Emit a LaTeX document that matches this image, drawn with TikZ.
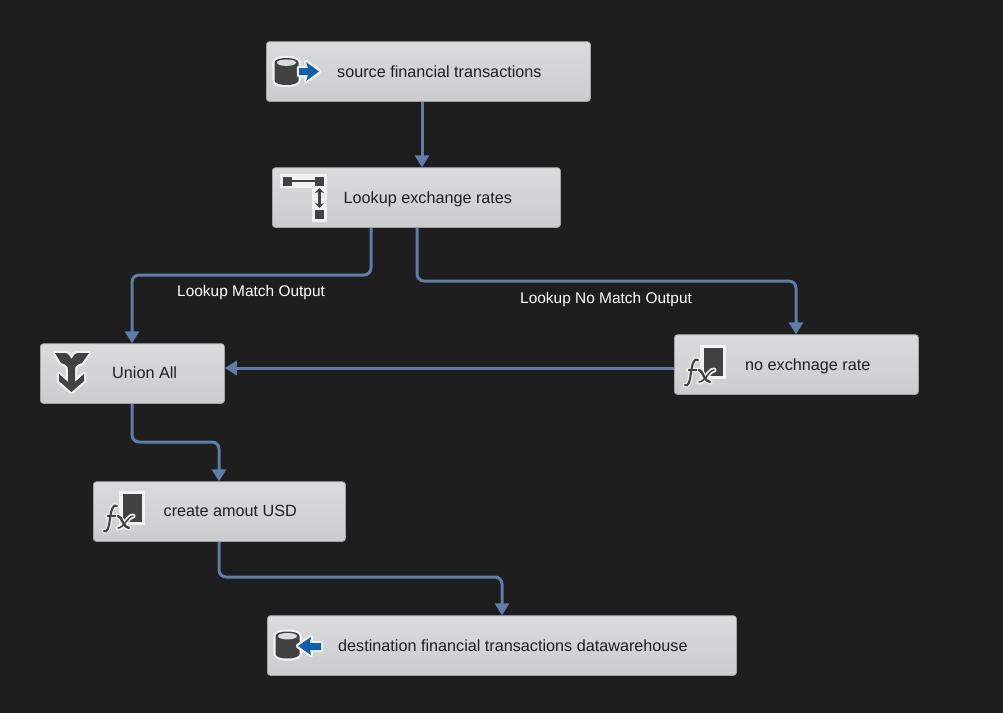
\documentclass[tikz,border=0pt]{standalone}
\usepackage{fontspec}
\setmainfont{Liberation Sans}
\usetikzlibrary{arrows.meta}
\definecolor{bg}{HTML}{1E1E1E}
\definecolor{boxtop}{HTML}{DBDBDD}
\definecolor{boxbot}{HTML}{CBCCCE}
\definecolor{boxedge}{HTML}{A2A3A6}
\definecolor{wire}{HTML}{5E7DA8}
\definecolor{ico}{HTML}{424242}
\definecolor{icoblue}{HTML}{0F5FAE}
\definecolor{halocol}{HTML}{F2F2F2}
\tikzset{
  x=1pt,y=-1pt,
  box/.style={draw=boxedge,line width=.8pt,rounded corners=3pt,top color=boxtop,bottom color=boxbot,anchor=north west,inner sep=0pt,minimum height=59.7pt},
  lbl/.style={anchor=base west,inner sep=0pt,font=\fontsize{16.2}{18}\selectfont,text=black!88},
  edgelbl/.style={anchor=base west,inner sep=0pt,font=\fontsize{15.45}{18}\selectfont,text=white},
  wireline/.style={draw=wire,line width=3pt,rounded corners=7pt,-{Triangle[length=12pt,width=14pt]}},
  halo/.style={draw=halocol,fill=halocol,line width=4.5pt,line join=round},
  dark/.style={fill=ico,draw=none},
}
\newcommand{\drum}[2]{%
  \begin{scope}[shift={(#1,#2)}]
    \path[halo] (-12,-9) -- (-12,9) .. controls (-12,15) and (12,15) .. (12,9) -- (12,-9) .. controls (12,-15) and (-12,-15) .. (-12,-9) -- cycle;
    \path[dark] (-12,-9) -- (-12,9) .. controls (-12,15) and (12,15) .. (12,9) -- (12,-9) .. controls (12,-15) and (-12,-15) .. (-12,-9) -- cycle;
    \path[fill=boxtop] (-9.5,-9) .. controls (-9.5,-4.5) and (9.5,-4.5) .. (9.5,-9) .. controls (9.5,-13) and (-9.5,-13) .. (-9.5,-9) -- cycle;
  \end{scope}}
\newcommand{\fxicon}[2]{%
  \begin{scope}[shift={(#1,#2)}]
    \path[fill=halocol] (26,10) rectangle (52,44);
    \path[dark] (30,13) rectangle (49,41);
    \draw[halocol,line width=4.5pt,line cap=round] (24,25) .. controls (20,22) and (18,30) .. (17,37) .. controls (16,47) and (14,52) .. (11,50);
    \draw[halocol,line width=4.5pt,line cap=round] (14,35) -- (23,35);
    \draw[halocol,line width=5pt,line cap=round] (25,35) .. controls (29,35) and (30,47) .. (36,47);
    \draw[halocol,line width=5pt,line cap=round] (40,35) .. controls (35,35) and (31,47) .. (25,47);
    \draw[ico,line width=2.1pt,line cap=round] (24,25) .. controls (20,22) and (18,30) .. (17,37) .. controls (16,47) and (14,52) .. (11,50);
    \draw[ico,line width=1.5pt] (14,35) -- (23,35);
    \draw[ico,line width=2.4pt,line cap=round] (25,35) .. controls (29,35) and (30,47) .. (36,47);
    \draw[ico,line width=1.5pt,line cap=round] (40,35) .. controls (35,35) and (31,47) .. (25,47);
  \end{scope}}
\begin{document}
\begin{tikzpicture}
\useasboundingbox (0,0) rectangle (1003,713);
\fill[bg] (0,0) rectangle (1003,713);

% boxes
\node[box,minimum width=324pt] (src) at (266,41.3) {};
\node[box,minimum width=288pt] (look) at (272,167.3) {};
\node[box,minimum width=184pt] (union) at (40,343.3) {};
\node[box,minimum width=244pt] (noex) at (674,334.3) {};
\node[box,minimum width=252pt] (amount) at (93,481.3) {};
\node[box,minimum width=469pt] (dest) at (267,615.3) {};

% labels
\node[lbl] (srct) at (337,77.5) {source financial transactions};
\node[lbl] (lookt) at (343.5,203.5) {Lookup exchange rates};
\node[lbl] (uniont) at (112,378.8) {Union All};
\node[lbl] (noext) at (745,370.5) {no exchnage rate};
\node[lbl] (amountt) at (163.5,516.5) {create amout USD};
\node[lbl] (destt) at (338,651.5) {destination financial transactions datawarehouse};

% connectors
\draw[wireline] (src.south -| 422,0) -- (look.north -| 422,0);
\draw[wireline] (look.south -| 371,0) -- (371,275) -- (132,275) -- (union.north -| 132,0);
\draw[wireline] (look.south -| 417,0) -- (417,281) -- (796,281) -- (noex.north -| 796,0);
\draw[wireline] (noex.west |- 0,368) -- (union.east |- 0,368);
\draw[wireline] (union.south -| 132,0) -- (132,442) -- (219,442) -- (amount.north -| 219,0);
\draw[wireline] (amount.south -| 219,0) -- (219,577) -- (502,577) -- (dest.north -| 502,0);

% connector labels
\node[edgelbl] (match) at (177,296.5) {Lookup Match Output};
\node[edgelbl] (nomatch) at (520,303.5) {Lookup No Match Output};

% source icon
\drum{286.5}{71.5}
\path[halo] (299,68) -- (308,68) -- (306,62) -- (319,71.5) -- (306,81) -- (308,75) -- (299,75) -- cycle;
\path[fill=icoblue] (299,68) -- (308,68) -- (306,62) -- (319,71.5) -- (306,81) -- (308,75) -- (299,75) -- cycle;

% destination icon
\drum{287.5}{645}
\path[halo] (321,643) -- (310,643) -- (311,637) -- (298,646) -- (311,655) -- (310,650) -- (321,650) -- cycle;
\path[fill=icoblue] (321,643) -- (310,643) -- (311,637) -- (298,646) -- (311,655) -- (310,650) -- (321,650) -- cycle;

% lookup icon
\path[fill=halocol] (280,174) rectangle (327,188);
\path[fill=halocol] (312,174) rectangle (327,222);
\path[dark] (283,177) rectangle (292,186);
\path[dark] (315,177) rectangle (324,186);
\path[dark] (315,210) rectangle (324,219);
\draw[ico,line width=2.6pt] (292,181) -- (315,181);
\draw[ico,line width=2.2pt,{Stealth[length=5pt,width=9pt]}-{Stealth[length=5pt,width=9pt]}] (319.5,188) -- (319.5,208);

% union icon
\path[halo] (55,353) -- (65,353) .. controls (68,353) and (70,356) .. (71.5,359) .. controls (73,356) and (75,353) .. (78,353) -- (89,353) -- (82,363) .. controls (78,364) and (75,366) .. (75,369) -- (75,382) -- (84,374) -- (84,381) -- (71.5,392) -- (59,381) -- (59,374) -- (68,382) -- (68,369) .. controls (68,366) and (65,364) .. (61,363) -- cycle;
\path[dark] (55,353) -- (65,353) .. controls (68,353) and (70,356) .. (71.5,359) .. controls (73,356) and (75,353) .. (78,353) -- (89,353) -- (82,363) .. controls (78,364) and (75,366) .. (75,369) -- (75,382) -- (84,374) -- (84,381) -- (71.5,392) -- (59,381) -- (59,374) -- (68,382) -- (68,369) .. controls (68,366) and (65,364) .. (61,363) -- cycle;

% expression icons
\fxicon{674}{335}
\fxicon{93}{481}
\end{tikzpicture}
\end{document}
